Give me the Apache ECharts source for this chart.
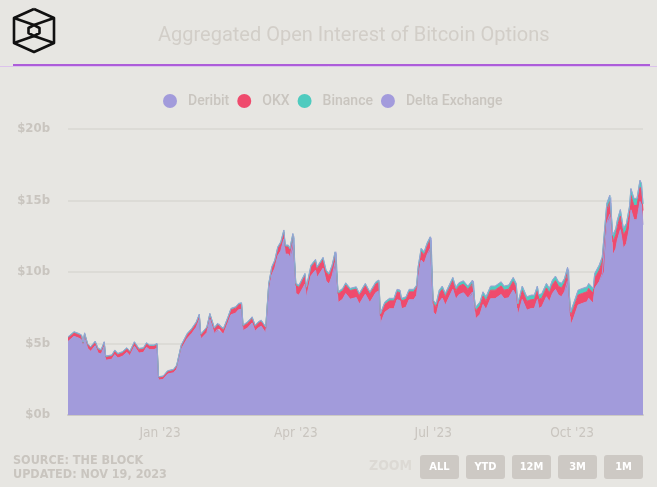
<!DOCTYPE html>
<html>
<head>
<meta charset="utf-8">
<script src="https://cdn.jsdelivr.net/npm/echarts@6/dist/echarts.min.js"></script>
<style>
html,body{margin:0;padding:0;background:#e7e6e2;}
#chart{width:657px;height:487px;}
</style>
</head>
<body>
<div id="chart"></div>
<script>
const seriesNames = ['Deribit', 'OKX', 'Binance', 'Delta Exchange'];
const yTicks = [0, 5, 10, 15, 20];
const xTickMonths = [0, 3, 6, 9];
const xTickLabels = ["Jan '23", "Apr '23", "Jul '23", "Oct '23"];

const dates = [
'2022-11-01','2022-11-05','2022-11-08','2022-11-10','2022-11-11','2022-11-12','2022-11-14','2022-11-16','2022-11-19','2022-11-21','2022-11-23','2022-11-25',
'2022-11-26','2022-11-30',
'2022-12-02','2022-12-04','2022-12-07','2022-12-10','2022-12-12','2022-12-15','2022-12-18','2022-12-21','2022-12-23','2022-12-25','2022-12-28','2022-12-30',
'2022-12-31','2023-01-03','2023-01-06','2023-01-10',
'2023-01-12','2023-01-15',
'2023-01-19','2023-01-22','2023-01-25','2023-01-27','2023-01-28',
'2023-02-01','2023-02-03','2023-02-06','2023-02-08','2023-02-09','2023-02-12','2023-02-15',
'2023-02-17','2023-02-20','2023-02-22','2023-02-24',
'2023-02-25',
'2023-02-28','2023-03-03','2023-03-05','2023-03-07','2023-03-09','2023-03-12',
'2023-03-14','2023-03-16','2023-03-18',
'2023-03-20','2023-03-22','2023-03-24','2023-03-25','2023-03-27','2023-03-28','2023-03-30','2023-03-31',
'2023-04-01','2023-04-03',
'2023-04-07','2023-04-08','2023-04-11','2023-04-14','2023-04-15','2023-04-19','2023-04-21','2023-04-23','2023-04-25','2023-04-27','2023-04-28',
'2023-04-29','2023-05-02','2023-05-04','2023-05-07','2023-05-11','2023-05-13','2023-05-17','2023-05-20','2023-05-24','2023-05-26',
'2023-05-27','2023-05-30','2023-06-02','2023-06-05','2023-06-07','2023-06-09','2023-06-10','2023-06-13','2023-06-15','2023-06-18','2023-06-20',
'2023-06-21','2023-06-23','2023-06-25','2023-06-27','2023-06-29','2023-06-30',
'2023-07-01','2023-07-03','2023-07-05','2023-07-07','2023-07-09','2023-07-14','2023-07-16','2023-07-18','2023-07-21','2023-07-24','2023-07-27','2023-07-28',
'2023-07-29',
'2023-08-01','2023-08-03','2023-08-05','2023-08-08','2023-08-11','2023-08-15','2023-08-17','2023-08-20','2023-08-23','2023-08-25',
'2023-08-26',
'2023-08-29','2023-09-01','2023-09-04','2023-09-06','2023-09-08','2023-09-09','2023-09-11','2023-09-14','2023-09-16','2023-09-18','2023-09-20','2023-09-22','2023-09-24','2023-09-26','2023-09-28','2023-09-29',
'2023-09-30',
'2023-10-02','2023-10-05','2023-10-08','2023-10-11','2023-10-12','2023-10-15','2023-10-16',
'2023-10-19','2023-10-21','2023-10-22',
'2023-10-24','2023-10-26','2023-10-27',
'2023-10-28','2023-10-30','2023-10-31','2023-11-02','2023-11-04','2023-11-06',
'2023-11-08','2023-11-09','2023-11-11','2023-11-13','2023-11-15','2023-11-16','2023-11-17'
];

// values in $ billions
const deribit = [
5.14,5.50,5.38,5.27,4.77,5.42,4.67,4.45,4.84,4.33,4.26,4.80,
3.83,3.90,
4.22,3.98,4.10,4.38,4.15,4.80,4.33,4.38,4.73,4.57,4.57,4.68,
2.44,2.49,2.86,2.96,
3.20,4.60,
5.35,5.70,6.14,6.68,5.32,
5.76,6.70,5.69,6.00,6.04,5.65,6.46,
7.01,7.12,7.36,7.40,
5.90,
6.09,6.44,5.86,6.09,6.21,5.74,
8.63,9.79,10.26,
11.13,11.48,12.30,11.25,11.25,11.02,12.06,11.95,
8.50,8.38,
9.15,8.21,9.73,10.13,9.61,10.27,9.38,9.15,9.73,10.66,10.74,
7.86,8.10,8.49,8.10,8.21,7.75,8.45,7.86,8.56,8.68,
6.38,7.19,7.43,7.43,8.06,8.01,7.43,7.54,8.06,8.06,8.36,
9.55,10.84,10.60,11.23,11.65,11.65,
7.20,6.97,7.90,8.18,7.67,8.79,8.09,8.41,8.55,8.18,8.60,8.60,
6.72,
7.03,7.73,7.38,8.13,8.13,8.43,8.13,8.20,8.74,8.32,
6.92,
8.08,7.33,7.45,7.45,8.08,7.45,7.57,8.27,7.92,8.50,8.78,8.38,8.27,8.62,9.39,9.39,
6.26,
6.76,7.69,7.81,7.92,8.16,7.81,8.86,
9.32,9.90,10.02,
13.45,14.03,13.95,
11.17,11.64,12.22,12.96,11.64,11.98,
13.07,14.35,13.65,13.65,14.93,14.70,13.30
];

const okx = [
0.25,0.25,0.25,0.25,0.25,0.25,0.25,0.25,0.25,0.25,0.25,0.25,
0.22,0.22,
0.25,0.25,0.25,0.25,0.25,0.25,0.25,0.25,0.25,0.25,0.25,0.25,
0.18,0.18,0.18,0.18,
0.22,0.22,
0.28,0.28,0.30,0.30,0.26,
0.32,0.32,0.32,0.32,0.32,0.32,0.32,
0.35,0.35,0.35,0.35,
0.30,
0.33,0.33,0.33,0.33,0.33,0.33,
0.45,0.45,0.45,
0.50,0.50,0.50,0.50,0.50,0.50,0.50,0.50,
0.55,0.55,
0.60,0.60,0.60,0.60,0.60,0.60,0.60,0.60,0.60,0.60,0.60,
0.60,0.60,0.60,0.60,0.60,0.60,0.60,0.60,0.60,0.60,
0.55,0.55,0.55,0.55,0.55,0.55,0.55,0.55,0.55,0.55,0.55,
0.60,0.60,0.60,0.60,0.60,0.60,
0.60,0.60,0.60,0.60,0.60,0.60,0.60,0.60,0.60,0.60,0.60,0.60,
0.55,
0.60,0.60,0.60,0.60,0.60,0.60,0.60,0.60,0.60,0.60,
0.58,
0.62,0.62,0.62,0.62,0.62,0.62,0.62,0.62,0.62,0.62,0.62,0.62,0.62,0.62,0.62,0.62,
0.65,
0.70,0.70,0.70,0.70,0.70,0.70,0.70,
0.80,0.80,0.80,
0.90,0.90,0.90,
0.95,0.95,0.95,0.95,0.95,0.95,
1.00,1.00,1.00,1.00,1.00,1.00,1.00
];

const binance = [
0.05,0.05,0.05,0.05,0.05,0.05,0.05,0.05,0.05,0.05,0.05,0.05,
0.05,0.05,
0.05,0.05,0.05,0.05,0.05,0.05,0.05,0.05,0.05,0.05,0.05,0.05,
0.04,0.04,0.04,0.04,
0.05,0.05,
0.05,0.05,0.05,0.05,0.05,
0.06,0.06,0.06,0.06,0.06,0.06,0.06,
0.07,0.07,0.07,0.07,
0.06,
0.07,0.07,0.07,0.07,0.07,0.07,
0.09,0.09,0.09,
0.10,0.10,0.10,0.10,0.10,0.10,0.10,0.10,
0.12,0.12,
0.12,0.12,0.12,0.12,0.12,0.12,0.12,0.12,0.12,0.12,0.12,
0.12,0.12,0.12,0.12,0.12,0.12,0.12,0.12,0.12,0.12,
0.14,0.14,0.14,0.14,0.14,0.14,0.14,0.14,0.14,0.14,0.14,
0.18,0.18,0.18,0.18,0.18,0.18,
0.20,0.20,0.20,0.20,0.20,0.20,0.20,0.20,0.20,0.20,0.20,0.20,
0.22,
0.25,0.25,0.25,0.25,0.25,0.25,0.25,0.25,0.25,0.25,
0.27,
0.28,0.28,0.28,0.28,0.28,0.28,0.28,0.28,0.28,0.28,0.28,0.28,0.28,0.28,0.28,0.28,
0.28,
0.30,0.30,0.30,0.30,0.30,0.30,0.30,
0.32,0.32,0.32,
0.40,0.40,0.40,
0.42,0.42,0.42,0.42,0.42,0.42,
0.45,0.45,0.45,0.45,0.45,0.45,0.45
];

const deltaExchange = [
0.03,0.03,0.03,0.03,0.03,0.03,0.03,0.03,0.03,0.03,0.03,0.03,
0.03,0.03,
0.03,0.03,0.03,0.03,0.03,0.03,0.03,0.03,0.03,0.03,0.03,0.03,
0.02,0.02,0.02,0.02,
0.03,0.03,
0.03,0.03,0.03,0.03,0.03,
0.03,0.03,0.03,0.03,0.03,0.03,0.03,
0.03,0.03,0.03,0.03,
0.03,
0.03,0.03,0.03,0.03,0.03,0.03,
0.04,0.04,0.04,
0.04,0.04,0.04,0.04,0.04,0.04,0.04,0.04,
0.04,0.04,
0.04,0.04,0.04,0.04,0.04,0.04,0.04,0.04,0.04,0.04,0.04,
0.04,0.04,0.04,0.04,0.04,0.04,0.04,0.04,0.04,0.04,
0.04,0.04,0.04,0.04,0.04,0.04,0.04,0.04,0.04,0.04,0.04,
0.04,0.04,0.04,0.04,0.04,0.04,
0.04,0.04,0.04,0.04,0.04,0.04,0.04,0.04,0.04,0.04,0.04,0.04,
0.04,
0.04,0.04,0.04,0.04,0.04,0.04,0.04,0.04,0.04,0.04,
0.04,
0.04,0.04,0.04,0.04,0.04,0.04,0.04,0.04,0.04,0.04,0.04,0.04,0.04,0.04,0.04,0.04,
0.04,
0.05,0.05,0.05,0.05,0.05,0.05,0.05,
0.05,0.05,0.05,
0.05,0.05,0.05,
0.05,0.05,0.05,0.05,0.05,0.05,
0.05,0.05,0.05,0.05,0.05,0.05,0.05
];

const colors = ['#a29bdb', '#ef4b6d', '#4fcbbf', '#a39bdc'];
const lineColors = ['#a29bdb', '#ef4b6d', '#4fcbbf', '#9aa3d6'];
const values = [deribit, okx, binance, deltaExchange];

const chart = echarts.init(document.getElementById('chart'), null, {renderer: 'canvas'});
const txt = '#c9c5bf';
const narrow = "'Liberation Sans Narrow','DejaVu Sans Condensed',sans-serif";

const logo = [
  [[34,9],[54,18],[54,43],[34,52],[14,43],[14,18],[34,9]],
  [[14,18],[34,25]],[[54,18],[34,25]],
  [[14,43],[34,36]],[[54,43],[34,36]],
  [[34,25],[39.5,28],[39.5,33],[34,36],[28.5,33],[28.5,28],[34,25]]
];

const buttons = ['ALL','YTD','12M','3M','1M'];
const graphics = [];
logo.forEach(p => graphics.push({type:'polyline', shape:{points:p}, style:{stroke:'#111', lineWidth:2.6, fill:null, lineJoin:'round'}}));
graphics.push({type:'line', shape:{x1:0,y1:66.5,x2:657,y2:66.5}, style:{stroke:'#dcc3ec', lineWidth:1}});
graphics.push({type:'line', shape:{x1:13,y1:65,x2:650,y2:65}, style:{stroke:'#9a2fd6', lineWidth:1.5}});
graphics.push({type:'text', left:13, top:454, style:{text:'SOURCE: THE BLOCK', fill:txt, font:"bold 12.5px " + narrow}});
graphics.push({type:'text', left:13, top:468, style:{text:'UPDATED: NOV 19, 2023', fill:txt, font:"bold 12.5px " + narrow}});
graphics.push({type:'text', left:369, top:459, style:{text:'ZOOM', fill:'#dcd9d4', font:"bold 14px " + narrow}});
buttons.forEach((b,i) => {
  graphics.push({type:'rect', shape:{x:420+46*i, y:455, width:39, height:24, r:3}, style:{fill:'#cdc9c4'}});
  graphics.push({type:'text', x:420+46*i+19.5, y:467, style:{text:b, fill:'#ffffff', font:"bold 11px " + narrow, textAlign:'center', textVerticalAlign:'middle'}});
});

const DAY = 86400000;

chart.setOption({
  backgroundColor: '#e7e6e2',
  animation: false,
  title: {
    text: 'Aggregated Open Interest of Bitcoin Options',
    left: 153, top: 21,
    textStyle: {color: '#d2cec8', fontSize: 20, fontWeight: 'normal', fontFamily: 'Roboto'}
  },
  legend: {
    data: seriesNames,
    left: 158, top: 89,
    icon: 'circle', itemWidth: 14, itemHeight: 14, itemGap: 8,
    textStyle: {color: txt, fontSize: 14, fontWeight: 500, fontFamily: 'Roboto', padding: [0,0,0,6]}
  },
  grid: {left: 68, right: 14, top: 129, bottom: 72},
  xAxis: {
    type: 'time',
    min: dates[0], max: dates[dates.length-1],
    maxInterval: 31 * DAY,
    axisLine: {show: true, lineStyle: {color: '#cdcac4', width: 2}},
    axisTick: {show: false},
    splitLine: {show: false},
    axisLabel: {
      formatter: function (v) {
        const dt = new Date(v);
        const i = xTickMonths.indexOf(dt.getMonth());
        return (i >= 0 && dt.getDate() === 1 && dt.getFullYear() === 2023) ? xTickLabels[i] : '';
      },
      hideOverlap: false,
      color: txt, fontSize: 13.5, fontFamily: narrow, margin: 11
    }
  },
  yAxis: {
    type: 'value', min: yTicks[0], max: yTicks[yTicks.length-1], interval: 5,
    axisLine: {show: false}, axisTick: {show: false},
    splitLine: {lineStyle: {color: '#d9d7d2', width: 1.5}},
    axisLabel: {formatter: v => '$' + v + 'b', color: txt, fontSize: 13, fontWeight: 'bold', fontFamily: narrow, margin: 18}
  },
  graphic: graphics,
  series: seriesNames.map((name, k) => ({
    name: name,
    type: 'line',
    stack: 'oi',
    showSymbol: false,
    symbol: 'none',
    color: colors[k],
    lineStyle: {width: 1, color: lineColors[k]},
    areaStyle: {color: colors[k], opacity: 1},
    data: dates.map((d, i) => [d, values[k][i]])
  }))
});
</script>
</body>
</html>
